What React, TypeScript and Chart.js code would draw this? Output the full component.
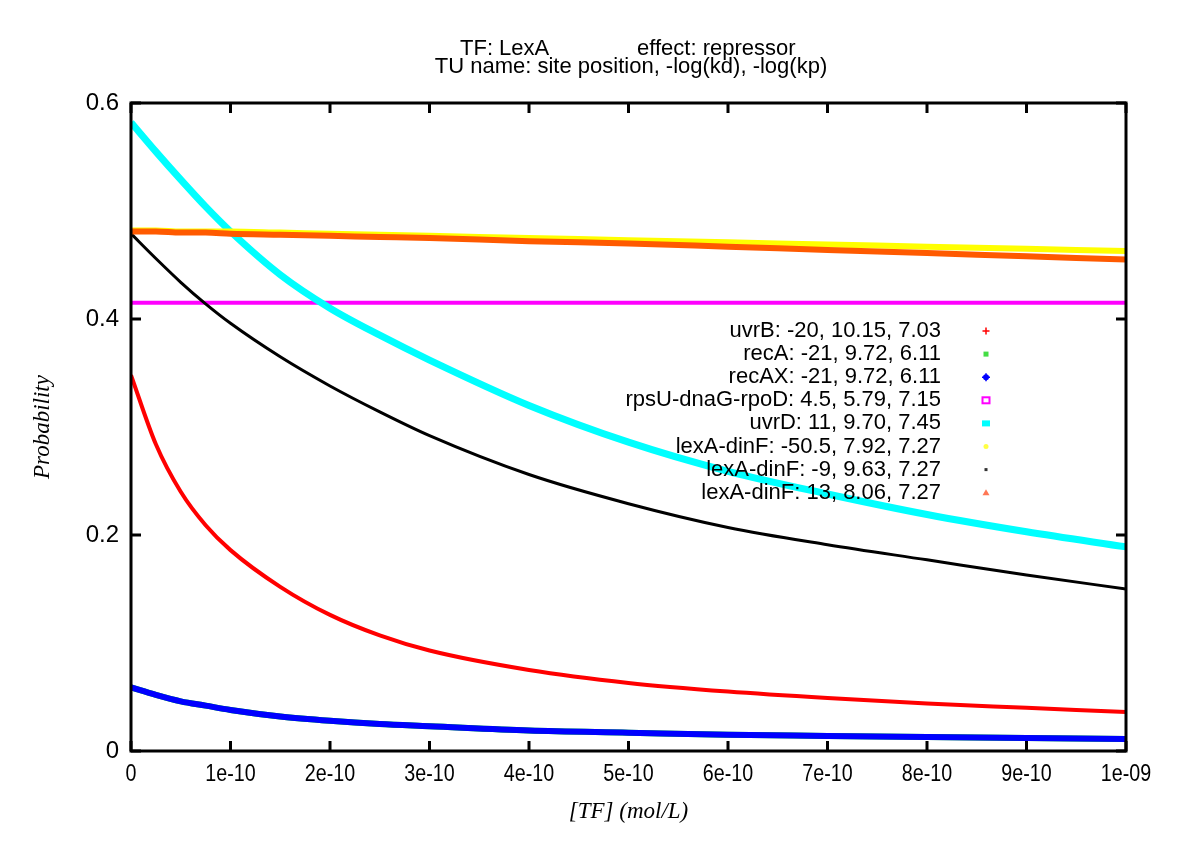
import React, { useEffect, useRef } from 'react';
import { Chart, registerables } from 'chart.js';

Chart.register(...registerables);

// [TF] (mol/L) sample positions
const TF = [0, 0.25e-10, 0.5e-10, 0.75e-10, 1e-10, 1.5e-10, 2e-10, 2.5e-10, 3e-10, 4e-10, 5e-10, 6e-10, 7e-10, 8e-10, 9e-10, 1e-9];

const uvrB = [0.348, 0.284, 0.240, 0.209, 0.186, 0.152, 0.126, 0.107, 0.093, 0.075, 0.063, 0.055, 0.049, 0.044, 0.040, 0.036];
const recA = [0.059, 0.052, 0.046, 0.042, 0.038, 0.032, 0.028, 0.025, 0.023, 0.019, 0.017, 0.015, 0.014, 0.013, 0.012, 0.011];
const recAX = [0.059, 0.052, 0.046, 0.042, 0.038, 0.032, 0.028, 0.025, 0.023, 0.019, 0.017, 0.015, 0.014, 0.013, 0.012, 0.011];
const rpsU = [0.415, 0.415, 0.415, 0.415, 0.415, 0.415, 0.415, 0.415, 0.415, 0.415, 0.415, 0.415, 0.415, 0.415, 0.415, 0.415];
const uvrD = [0.582, 0.555, 0.529, 0.504, 0.481, 0.441, 0.410, 0.385, 0.362, 0.320, 0.286, 0.259, 0.238, 0.219, 0.203, 0.189];
const lexA_m50 = [0.482, 0.482, 0.481, 0.481, 0.481, 0.480, 0.479, 0.478, 0.477, 0.475, 0.473, 0.471, 0.469, 0.467, 0.465, 0.463];
const lexA_m9 = [0.479, 0.456, 0.434, 0.414, 0.396, 0.365, 0.338, 0.314, 0.292, 0.256, 0.229, 0.207, 0.191, 0.177, 0.163, 0.150];
const lexA_13 = [0.481, 0.481, 0.480, 0.480, 0.479, 0.478, 0.477, 0.476, 0.475, 0.472, 0.470, 0.467, 0.464, 0.461, 0.458, 0.455];

const SERIES_LABELS = [
  'uvrB: -20, 10.15, 7.03',
  'recA: -21, 9.72, 6.11',
  'recAX: -21, 9.72, 6.11',
  'rpsU-dnaG-rpoD: 4.5, 5.79, 7.15',
  'uvrD: 11, 9.70, 7.45',
  'lexA-dinF: -50.5, 7.92, 7.27',
  'lexA-dinF: -9, 9.63, 7.27',
  'lexA-dinF: 13, 8.06, 7.27',
];
const SERIES_VALUES = [uvrB, recA, recAX, rpsU, uvrD, lexA_m50, lexA_m9, lexA_13];
const SERIES_COLORS = ['#ff0000', '#00e000', '#0000ff', '#ff00ff', '#00ffff', '#ffff00', '#000000', '#ff5a00'];
const SERIES_WIDTHS = [4, 6, 6, 4, 7, 6, 3, 6];
const MARKER_COLORS = ['#ff0000', '#44dd44', '#0000ff', '#ff00ff', '#00ffff', '#ffff44', '#333333', '#ff7755'];

const X_TICKS = [0, 1e-10, 2e-10, 3e-10, 4e-10, 5e-10, 6e-10, 7e-10, 8e-10, 9e-10, 1e-9];
const X_TICK_LABELS = ['0', '1e-10', '2e-10', '3e-10', '4e-10', '5e-10', '6e-10', '7e-10', '8e-10', '9e-10', '1e-09'];
const Y_TICKS = [0, 0.2, 0.4, 0.6];
const Y_TICK_LABELS = ['0', '0.2', '0.4', '0.6'];

const TITLE_LEFT = 'TF: LexA';
const TITLE_RIGHT = 'effect: repressor';
const TITLE_LINE2 = 'TU name: site position, -log(kd), -log(kp)';
const X_TITLE = '[TF] (mol/L)';
const Y_TITLE = 'Probability';

const SANS = '"Liberation Sans", Arial, Helvetica, sans-serif';
const SERIF = '"Liberation Serif", "Times New Roman", serif';

function drawMarker(ctx: CanvasRenderingContext2D, i: number, x: number, y: number) {
  const c = MARKER_COLORS[i];
  ctx.save();
  ctx.fillStyle = c;
  ctx.strokeStyle = c;
  ctx.lineWidth = 1.5;
  switch (i) {
    case 0:
      ctx.beginPath();
      ctx.moveTo(x - 3.5, y); ctx.lineTo(x + 3.5, y);
      ctx.moveTo(x, y - 3.5); ctx.lineTo(x, y + 3.5);
      ctx.stroke();
      break;
    case 1:
      ctx.fillRect(x - 2.5, y - 2.5, 5, 5);
      break;
    case 2:
      ctx.beginPath();
      ctx.arc(x, y, 3, 0, Math.PI * 2);
      ctx.fill();
      ctx.beginPath();
      ctx.moveTo(x - 4, y); ctx.lineTo(x + 4, y);
      ctx.moveTo(x, y - 4); ctx.lineTo(x, y + 4);
      ctx.stroke();
      break;
    case 3:
      ctx.lineWidth = 2;
      ctx.strokeRect(x - 3.5, y - 3, 7, 6);
      break;
    case 4:
      ctx.fillRect(x - 4, y - 3, 8, 6);
      break;
    case 5:
      ctx.beginPath();
      ctx.arc(x, y, 2.5, 0, Math.PI * 2);
      ctx.fill();
      break;
    case 6:
      ctx.fillRect(x - 1.5, y - 1.5, 3, 3);
      break;
    case 7:
      ctx.beginPath();
      ctx.moveTo(x, y - 3.5); ctx.lineTo(x + 3.5, y + 2.5); ctx.lineTo(x - 3.5, y + 2.5);
      ctx.closePath();
      ctx.fill();
      break;
  }
  ctx.restore();
}

const gnuplotPlugin = {
  id: 'gnuplotDecor',
  afterDraw(chart: any) {
    const { ctx, chartArea: a, scales } = chart;
    const xs = scales.x;
    const ys = scales.y;
    ctx.save();

    // frame
    ctx.strokeStyle = '#000';
    ctx.lineWidth = 3;
    ctx.strokeRect(a.left, a.top, a.right - a.left, a.bottom - a.top);

    // inward ticks on all sides
    const tl = 10;
    ctx.beginPath();
    X_TICKS.forEach((v) => {
      const px = xs.getPixelForValue(v);
      ctx.moveTo(px, a.bottom); ctx.lineTo(px, a.bottom - tl);
      ctx.moveTo(px, a.top); ctx.lineTo(px, a.top + tl);
    });
    Y_TICKS.forEach((v) => {
      const py = ys.getPixelForValue(v);
      ctx.moveTo(a.left, py); ctx.lineTo(a.left + tl, py);
      ctx.moveTo(a.right, py); ctx.lineTo(a.right - tl, py);
    });
    ctx.stroke();

    ctx.fillStyle = '#000';
    // x tick labels (narrow)
    ctx.font = `24px ${SANS}`;
    ctx.textAlign = 'center';
    ctx.textBaseline = 'middle';
    X_TICKS.forEach((v, i) => {
      const px = xs.getPixelForValue(v);
      ctx.save();
      ctx.translate(px, a.bottom + 23);
      ctx.scale(0.82, 1);
      ctx.fillText(X_TICK_LABELS[i], 0, 0);
      ctx.restore();
    });

    // y tick labels
    ctx.textAlign = 'right';
    Y_TICKS.forEach((v, i) => {
      ctx.fillText(Y_TICK_LABELS[i], a.left - 12, ys.getPixelForValue(v));
    });

    // axis titles
    ctx.font = `italic 23px ${SERIF}`;
    ctx.textAlign = 'center';
    ctx.fillText(X_TITLE, (a.left + a.right) / 2, 812);
    ctx.save();
    ctx.translate(43, (a.top + a.bottom) / 2);
    ctx.rotate(-Math.PI / 2);
    ctx.fillText(Y_TITLE, 0, 0);
    ctx.restore();

    // title
    ctx.font = `22px ${SANS}`;
    ctx.textBaseline = 'alphabetic';
    ctx.textAlign = 'left';
    ctx.fillText(TITLE_LEFT, 460, 55);
    ctx.fillText(TITLE_RIGHT, 637, 55);
    ctx.textAlign = 'center';
    ctx.fillText(TITLE_LINE2, 631, 73);

    // legend
    ctx.font = `22px ${SANS}`;
    ctx.textAlign = 'right';
    ctx.textBaseline = 'middle';
    SERIES_LABELS.forEach((lab, i) => {
      const y = 331 + i * 23.1;
      ctx.fillStyle = '#000';
      ctx.fillText(lab, 941, y);
      drawMarker(ctx, i, 986, y);
    });

    ctx.restore();
  },
};

export default function App() {
  const ref = useRef<HTMLCanvasElement | null>(null);

  useEffect(() => {
    if (!ref.current) return;
    const n = SERIES_VALUES.length;
    const chart = new Chart(ref.current, {
      type: 'line',
      data: {
        datasets: SERIES_VALUES.map((vals, i) => ({
          label: SERIES_LABELS[i],
          data: TF.map((x, j) => ({ x, y: vals[j] })),
          borderColor: SERIES_COLORS[i],
          backgroundColor: SERIES_COLORS[i],
          borderWidth: SERIES_WIDTHS[i],
          pointRadius: 0,
          fill: false,
          cubicInterpolationMode: 'monotone' as const,
          order: n - i,
        })),
      },
      options: {
        animation: false,
        responsive: false,
        maintainAspectRatio: false,
        devicePixelRatio: 1,
        layout: { padding: { left: 131, top: 103, right: 74, bottom: 94 } },
        plugins: {
          legend: { display: false },
          title: { display: false },
          tooltip: { enabled: false },
        },
        scales: {
          x: { type: 'linear', min: 0, max: 1e-9, display: false },
          y: { type: 'linear', min: 0, max: 0.6, display: false },
        },
      },
      plugins: [gnuplotPlugin],
    });
    return () => chart.destroy();
  }, []);

  return (
    <div style={{ position: 'fixed', left: 0, top: 0, width: 1200, height: 845, background: '#fff' }}>
      <canvas ref={ref} width={1200} height={845} style={{ display: 'block', width: 1200, height: 845 }} />
    </div>
  );
}
